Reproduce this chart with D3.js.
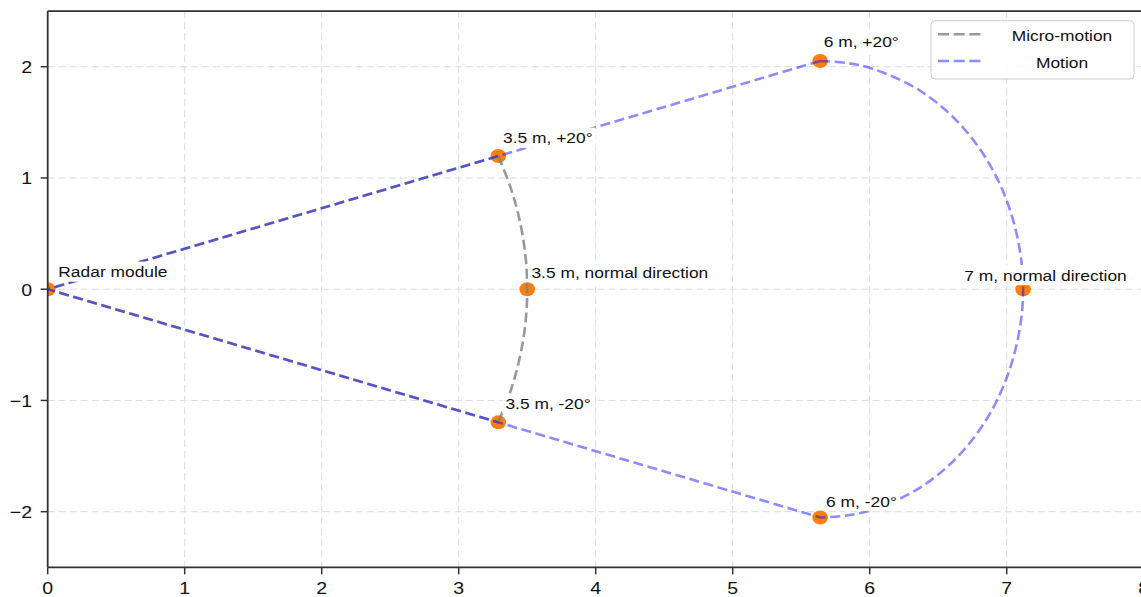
<!DOCTYPE html>
<html>
<head>
<meta charset="utf-8">
<script src="https://cdn.jsdelivr.net/npm/d3@7"></script>
<style>
  html, body { margin: 0; padding: 0; background: #fff; }
  svg { display: block; }
  text { font-family: "Liberation Sans", Arial, Helvetica, sans-serif; fill: #111; }
</style>
</head>
<body>
<svg id="chart" width="1141" height="597"></svg>
<script>
// ---------------- data ----------------
const xTicks = [0, 1, 2, 3, 4, 5, 6, 7, 8];
const yTicks = [-2, -1, 0, 1, 2];

const pointLabels = ["Radar module", "3.5 m, +20°", "3.5 m, normal direction", "3.5 m, -20°",
                     "6 m, +20°", "7 m, normal direction", "6 m, -20°"];
const pointX = [0, 3.289, 3.5, 3.289, 5.638, 7.12, 5.638];
const pointY = [0, 1.197, 0, -1.197, 2.052, 0, -2.052];

// Micro-motion: straight sides + arc
const microSideX = [3.289, 0, 3.289];
const microSideY = [1.197, 0, -1.197];
const microArcX = [3.289, 3.381, 3.447, 3.487, 3.5, 3.487, 3.447, 3.381, 3.289];
const microArcY = [1.197, 0.906, 0.608, 0.305, 0, -0.305, -0.608, -0.906, -1.197];

// Motion: straight sides + outer curve
const motionSideX = [5.638, 0, 5.638];
const motionSideY = [2.052, 0, -2.052];
const motionArcX = [5.638, 5.831, 6.021, 6.377, 6.683, 6.918, 7.066, 7.12, 7.066, 6.918, 6.683, 6.377, 6.021, 5.831, 5.638];
const motionArcY = [2.052, 2.034, 1.982, 1.777, 1.451, 1.026, 0.531, 0, -0.531, -1.026, -1.451, -1.777, -1.982, -2.034, -2.052];

const legendLabels = ["Micro-motion", "Motion"];

// ---------------- layout / style ----------------
const SX = 1.13; // horizontal text stretch
const labelOffsets = [[10.6, -11.9], [4.7, -12.7], [4.2, -11.5], [7.1, -13.1], [3.6, -14.2], [-58.8, -8.5], [6, -10.8]];
const microColor = "gray", microOpacity = 0.8;
const motionColor = "blue", motionOpacity = 0.45;
const dash = "10,4.6";
const lw = 2.6;

const svg = d3.select("#chart");
const PL = 47.7, PR = 1143.7, PT = 11.1, PB = 567.3;
const x = d3.scaleLinear().domain([0, 8]).range([PL, PR]);
const y = d3.scaleLinear().domain([-2.5, 2.5]).range([PB, PT]);

svg.append("defs").append("clipPath").attr("id", "plotclip")
  .append("rect").attr("x", PL).attr("y", PT).attr("width", PR - PL).attr("height", PB - PT);

const plot = svg.append("g").attr("clip-path", "url(#plotclip)");

// grid
plot.append("g").selectAll("line").data(xTicks).join("line")
  .attr("x1", d => x(d)).attr("x2", d => x(d)).attr("y1", PT).attr("y2", PB)
  .attr("stroke", "#dcdcdc").attr("stroke-width", 1).attr("stroke-dasharray", "7,4");
plot.append("g").selectAll("line").data(yTicks).join("line")
  .attr("x1", PL).attr("x2", PR).attr("y1", d => y(d)).attr("y2", d => y(d))
  .attr("stroke", "#dcdcdc").attr("stroke-width", 1).attr("stroke-dasharray", "7,4");

// points
plot.append("g").selectAll("ellipse").data(d3.range(pointX.length)).join("ellipse")
  .attr("cx", i => x(pointX[i])).attr("cy", i => y(pointY[i]))
  .attr("rx", 7.8).attr("ry", 7).attr("fill", "#ff7f0e");

const lineLin = d3.line().x(d => x(d[0])).y(d => y(d[1]));
const lineCurve = d3.line().x(d => x(d[0])).y(d => y(d[1])).curve(d3.curveCatmullRom.alpha(0.5));
const zip = (a, b) => a.map((v, i) => [v, b[i]]);

function drawPath(gen, xs, ys, color, op) {
  plot.append("path").datum(zip(xs, ys)).attr("d", gen)
    .attr("fill", "none").attr("stroke", color).attr("stroke-opacity", op)
    .attr("stroke-width", lw).attr("stroke-dasharray", dash);
}

drawPath(lineLin, microSideX, microSideY, microColor, microOpacity);
drawPath(lineCurve, microArcX, microArcY, microColor, microOpacity);
drawPath(lineLin, motionSideX, motionSideY, motionColor, motionOpacity);

// labels with white boxes
const labelLayer = svg.append("g");
pointLabels.forEach((t, i) => {
  const px = x(pointX[i]) + labelOffsets[i][0];
  const py = y(pointY[i]) + labelOffsets[i][1];
  const g = labelLayer.append("g").attr("transform", `translate(${px},${py}) scale(${SX},1)`);
  const rect = g.append("rect").attr("fill", "white");
  const txt = g.append("text").attr("x", 0).attr("y", 0).attr("font-size", 15.4).text(t);
  const bb = txt.node().getBBox();
  const pad = 2.6;
  rect.attr("x", bb.x - pad).attr("y", bb.y - pad + 1).attr("width", bb.width + 2 * pad).attr("height", bb.height + 2 * pad - 2);
});

// outer motion curve drawn above labels
drawPath(lineCurve, motionArcX, motionArcY, motionColor, motionOpacity);

// spines
const ax = svg.append("g");
[[PL, PL, PT, PB], [PL, PR, PB, PB], [PL, PR, PT, PT], [PR, PR, PT, PB]].forEach(s => {
  ax.append("line").attr("x1", s[0]).attr("x2", s[1]).attr("y1", s[2]).attr("y2", s[3])
    .attr("stroke", "#333").attr("stroke-width", 1.8);
});

// ticks
ax.append("g").selectAll("line").data(xTicks).join("line")
  .attr("x1", d => x(d)).attr("x2", d => x(d)).attr("y1", PB).attr("y2", PB + 7)
  .attr("stroke", "#333").attr("stroke-width", 1.5);
ax.append("g").selectAll("line").data(yTicks).join("line")
  .attr("x1", PL - 7).attr("x2", PL).attr("y1", d => y(d)).attr("y2", d => y(d))
  .attr("stroke", "#333").attr("stroke-width", 1.5);

const fmt = d => (d < 0 ? "\u2212" + Math.abs(d) : String(d));
xTicks.forEach(d => {
  ax.append("g").attr("transform", `translate(${x(d)},594) scale(${SX},1)`)
    .append("text").attr("text-anchor", "middle").attr("font-size", 17.3).text(fmt(d));
});
yTicks.forEach(d => {
  ax.append("g").attr("transform", `translate(32,${y(d) + 6.3}) scale(${SX},1)`)
    .append("text").attr("text-anchor", "end").attr("font-size", 17.3).text(fmt(d));
});

// legend
const lg = svg.append("g");
lg.append("rect").attr("x", 931).attr("y", 20.7).attr("width", 203).attr("height", 58.3)
  .attr("rx", 4).attr("fill", "white").attr("fill-opacity", 0.85)
  .attr("stroke", "#cccccc").attr("stroke-width", 1);
const legColors = [[microColor, microOpacity], [motionColor, motionOpacity]];
legendLabels.forEach((t, i) => {
  const yy = 34.3 + i * 26.7;
  lg.append("line").attr("x1", 938).attr("x2", 982).attr("y1", yy).attr("y2", yy)
    .attr("stroke", legColors[i][0]).attr("stroke-opacity", legColors[i][1])
    .attr("stroke-width", lw).attr("stroke-dasharray", "11,4.7");
  lg.append("g").attr("transform", `translate(1062,${yy + 6.5}) scale(${SX},1)`)
    .append("text").attr("text-anchor", "middle").attr("font-size", 15.4).text(t);
});
</script>
</body>
</html>
